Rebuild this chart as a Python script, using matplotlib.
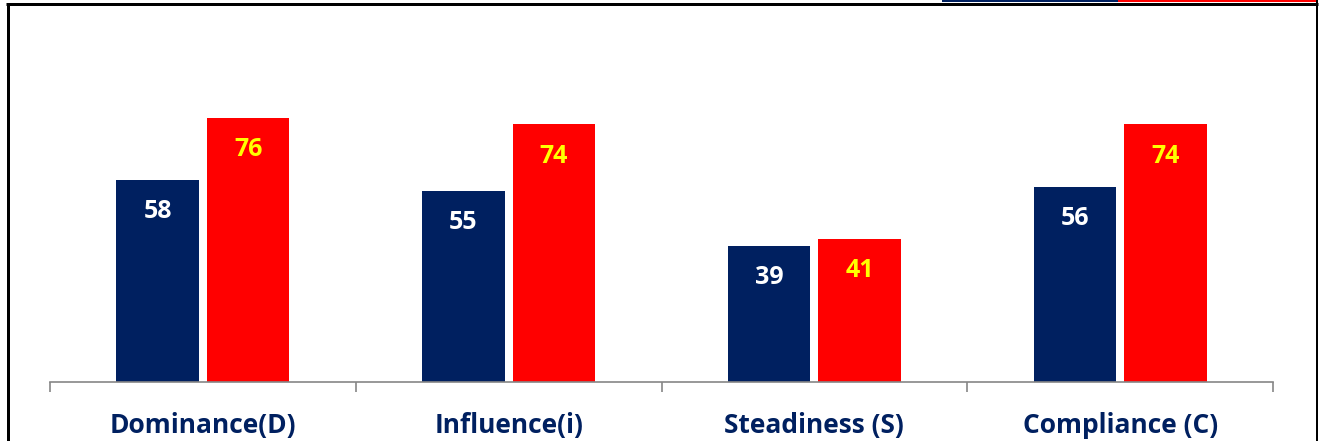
import matplotlib
matplotlib.use("Agg")
import matplotlib.pyplot as plt
from matplotlib.patches import Rectangle
from matplotlib.lines import Line2D
import numpy as np

categories = ["Dominance(D)", "Influence(i)", "Steadiness (S)", "Compliance (C)"]
series_a = [58, 55, 39, 56]
series_b = [76, 74, 41, 74]

NAVY = "#002060"
RED = "#FF0000"
YELLOW = "#FFFF00"
FONT = ["Open Sans", "DejaVu Sans"]

W, H = 1319, 441
fig = plt.figure(figsize=(W / 100, H / 100), dpi=100)
fig.patch.set_facecolor("white")

def px_line(x0, y0, x1, y1, lw, color):
    fig.add_artist(Line2D([x0 / W, x1 / W], [1 - y0 / H, 1 - y1 / H],
                          transform=fig.transFigure, color=color, lw=lw * 0.72,
                          solid_capstyle="butt"))

# top legend strips (cut off)
fig.add_artist(Rectangle((942 / W, 1 - 2 / H), (1118 - 942) / W, 2 / H,
                         transform=fig.transFigure, color=NAVY, lw=0))
fig.add_artist(Rectangle((1118 / W, 1 - 2 / H), (1318 - 1118) / W, 2 / H,
                         transform=fig.transFigure, color=RED, lw=0))
px_line(6, 3.5, 1318, 3.5, 3, "black")
px_line(7.5, 3, 7.5, 441, 3, "black")
px_line(1317, 0, 1317, 441, 2, "black")

ax_left, ax_right = 50, 1273
ax_bottom, ax_top = 382, 34
ax = fig.add_axes([ax_left / W, 1 - ax_bottom / H, (ax_right - ax_left) / W,
                   (ax_bottom - ax_top) / H])
ax.set_xlim(-0.5, len(categories) - 0.5)
ax.set_ylim(0, 100)
ax.patch.set_alpha(0)

x = np.arange(len(categories))
bw = 0.27
off = 0.148
bars_a = ax.bar(x - off, series_a, bw, color=NAVY, zorder=2)
bars_b = ax.bar(x + off, series_b, bw, color=RED, zorder=2)

for b, v in zip(bars_a, series_a):
    ax.annotate(str(v), (b.get_x() + b.get_width() / 2, v), xytext=(0, -22.8),
                textcoords="offset points", ha="center", va="center",
                color="white", fontsize=18, fontweight="bold", family=FONT)
for b, v in zip(bars_b, series_b):
    ax.annotate(str(v), (b.get_x() + b.get_width() / 2, v), xytext=(0, -22.8),
                textcoords="offset points", ha="center", va="center",
                color=YELLOW, fontsize=18, fontweight="bold", family=FONT)

for s in ["top", "right", "left"]:
    ax.spines[s].set_visible(False)
ax.spines["bottom"].set_color("#868686")
ax.spines["bottom"].set_linewidth(1.2)
ax.set_yticks([])
ax.set_xticks(np.arange(-0.5, len(categories)), minor=False)
ax.set_xticklabels([])
ax.tick_params(axis="x", direction="out", length=7.5, width=1.2, color="#868686")
for i, c in enumerate(categories):
    ax.text(i, -12.6, c, ha="center", va="center", color=NAVY, fontsize=19,
            fontweight="bold", family=FONT, transform=ax.transData)

fig.savefig("out.png", dpi=100, facecolor="white")
